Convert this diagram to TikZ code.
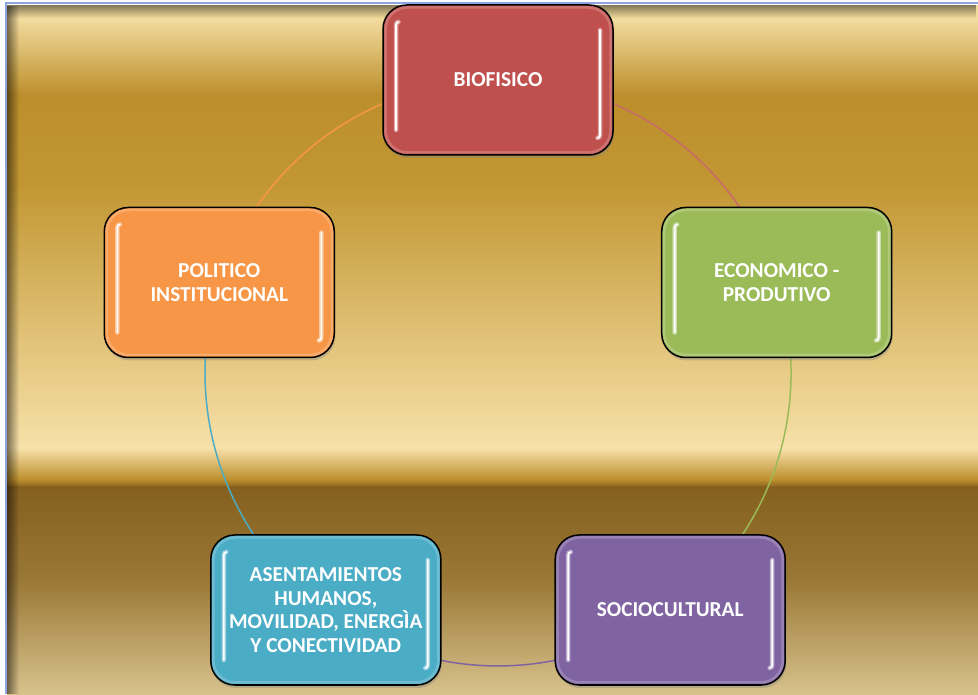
\documentclass[tikz,border=0pt]{standalone}
\usepackage{fontspec}
\setmainfont{Carlito}
\usetikzlibrary{shadows,fadings}
\pgfdeclarelayer{bg}
\pgfdeclarelayer{arcs}
\pgfsetlayers{bg,arcs,main}
\definecolor{cRed}{HTML}{C0504D}
\definecolor{cGreen}{HTML}{9BBB59}
\definecolor{cPurple}{HTML}{8064A2}
\definecolor{cBlue}{HTML}{4BACC6}
\definecolor{cOrange}{HTML}{F79646}
\definecolor{frameblue}{HTML}{8EA4DE}
\definecolor{g1}{HTML}{F1DA9C}
\definecolor{g2}{HTML}{BC8F2C}
\definecolor{g3}{HTML}{C29733}
\definecolor{g4}{HTML}{F7E1A9}
\definecolor{g5}{HTML}{BA8C2A}
\definecolor{g6}{HTML}{85601F}
\definecolor{g7}{HTML}{9A7836}
\definecolor{g8}{HTML}{D8C28C}
\tikzset{
  box/.style={rounded corners=24pt, minimum width=230pt, minimum height=150pt,
    draw=black, line width=1.5pt, text=white, align=center, inner sep=0pt,
    font=\bfseries\fontsize{21.3}{23.5}\selectfont,
    drop shadow={shadow xshift=1pt, shadow yshift=-3pt, opacity=0.35}},
  link/.style={line width=1.5pt},
  hl/.style={line cap=round, line width=4.5pt, opacity=0.8},
  hlcore/.style={line cap=round, line width=1.6pt, white}
}
\newcommand{\gloss}[2]{%
  \begin{scope}[shift={(#1.center)}]
    \draw[#2!55!white, line width=2.5pt, rounded corners=22pt, opacity=0.45] (-112.5,-72.5) rectangle (112.5,72.5);
    \draw[hl, #2!40!white] (-102,-50) -- (-102,55) to[out=90,in=180] (-99.5,58);
    \draw[hlcore] (-102,-50) -- (-102,55) to[out=90,in=180] (-99.5,58);
    \draw[hl, #2!40!white] (102,50) -- (102,-55) to[out=-90,in=0] (99.5,-58);
    \draw[hlcore] (102,50) -- (102,-55) to[out=-90,in=0] (99.5,-58);
  \end{scope}}
\begin{document}
\begin{tikzpicture}[x=1pt,y=1pt]
\useasboundingbox (0,0) rectangle (978,694);
\begin{pgfonlayer}{bg}
  \fill[white] (0,0) rectangle (978,694);
  \fill[g1] (7,673.5) rectangle (978,689);
  \shade[top color=g1, bottom color=g2] (7,598.5) rectangle (978,674);
  \shade[top color=g2, bottom color=g3] (7,508.5) rectangle (978,599);
  \shade[top color=g3, bottom color=g4] (7,245.5) rectangle (978,509);
  \shade[top color=g4, bottom color=g5] (7,213.5) rectangle (978,246);
  \shade[top color=g5, bottom color=g6] (7,206.5) rectangle (978,214);
  \shade[top color=g6, bottom color=g7] (7,113.5) rectangle (978,207);
  \shade[top color=g7, bottom color=g8] (7,0) rectangle (978,114);
  \fill[black, opacity=0.5, path fading=east] (7,0) rectangle (19,689);
  \fill[black, opacity=0.45, path fading=south] (7,676) rectangle (978,689);
  \draw[frameblue, line width=2pt] (5.5,0) -- (5.5,690.5) -- (978,690.5);
\end{pgfonlayer}

\node[box, fill=cRed] (bio) at (498,614) {BIOFISICO};
\node[box, fill=cGreen] (eco) at (776.7,411.5) {ECONOMICO -\\PRODUTIVO};
\node[box, fill=cPurple] (soc) at (670.2,84) {SOCIOCULTURAL};
\node[box, fill=cBlue] (ase) at (325.8,84) {ASENTAMIENTOS\\HUMANOS,\\MOVILIDAD, ENERGÌA\\Y CONECTIVIDAD};
\node[box, fill=cOrange] (pol) at (219.3,411.5) {POLITICO\\INSTITUCIONAL};

\gloss{bio}{cRed}
\gloss{eco}{cGreen}
\gloss{soc}{cPurple}
\gloss{ase}{cBlue}
\gloss{pol}{cOrange}

\begin{pgfonlayer}{arcs}
  \draw[link, cRed!85!white] (bio.center) arc[start angle=90, end angle=18, radius=293pt];
  \draw[link, cGreen] (eco.center) arc[start angle=18, end angle=-54, radius=293pt];
  \draw[link, cPurple] (soc.center) arc[start angle=-54, end angle=-126, radius=293pt];
  \draw[link, cBlue] (ase.center) arc[start angle=-126, end angle=-198, radius=293pt];
  \draw[link, cOrange] (pol.center) arc[start angle=162, end angle=90, radius=293pt];
\end{pgfonlayer}
\end{tikzpicture}
\end{document}
